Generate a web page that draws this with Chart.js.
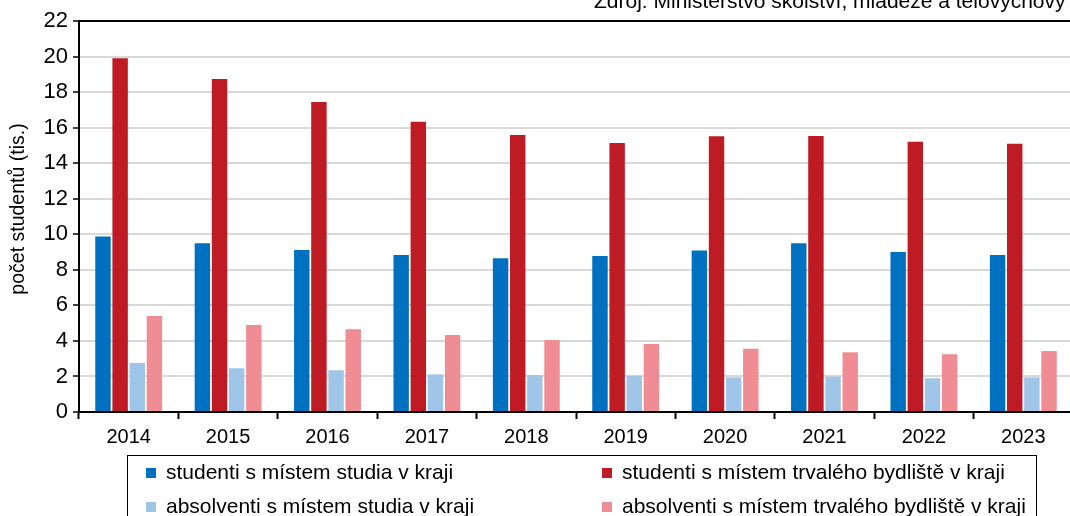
<!DOCTYPE html>
<html>
<head>
<meta charset="utf-8">
<script src="https://cdn.jsdelivr.net/npm/chart.js@4/dist/chart.umd.min.js"></script>
<style>
    html, body { margin: 0; padding: 0; overflow: hidden; background: #fff; }
    #wrap { position: relative; width: 1073px; height: 516px; }
    #legend {
        position: absolute; left: 127px; top: 455px; width: 910px; height: 80px;
        border: 1.5px solid #000; box-sizing: border-box;
        font-family: Arial, "Liberation Sans", sans-serif; font-size: 21px; color: #000;
    }
    .item { position: absolute; white-space: nowrap; line-height: 22px; }
    .item span { display: inline-block; width: 10px; height: 10px; margin-right: 10px; vertical-align: 1px; }
</style>
</head>
<body>
<div id="wrap">
    <canvas id="chart" width="1073" height="516"></canvas>
    <div id="legend"></div>
</div>
<script>
const years = ['2014', '2015', '2016', '2017', '2018', '2019', '2020', '2021', '2022', '2023'];
const studentiStudium = [9.87, 9.49, 9.12, 8.84, 8.65, 8.78, 9.08, 9.49, 9.0, 8.84];
const studentiBydliste = [19.9, 18.74, 17.44, 16.33, 15.59, 15.13, 15.52, 15.53, 15.2, 15.09];
const absolventiStudium = [2.76, 2.46, 2.35, 2.12, 2.08, 2.04, 1.95, 1.99, 1.9, 1.95];
const absolventiBydliste = [5.4, 4.9, 4.65, 4.33, 4.05, 3.83, 3.56, 3.36, 3.25, 3.43];
const seriesNames = [
    'studenti s místem studia v kraji',
    'studenti s místem trvalého bydliště v kraji',
    'absolventi s místem studia v kraji',
    'absolventi s místem trvalého bydliště v kraji'
];
const colors = ['#0070c0', '#be1b24', '#9fc5e8', '#f08c93'];
const yTitle = 'počet studentů (tis.)';
const sourceText = 'Zdroj: Ministerstvo školství, mládeže a tělovýchovy';

const FONT = 'Arial, "Liberation Sans", sans-serif';

// extra texts: source line and rotated y title
const textPlugin = {
    id: 'texts',
    afterDraw(chart) {
        const ctx = chart.ctx;
        ctx.save();
        ctx.fillStyle = '#000';
        ctx.font = '21px ' + FONT;
        ctx.textBaseline = 'alphabetic';
        ctx.textAlign = 'left';
        ctx.fillText(sourceText, 594, 8);

        ctx.translate(19, 209);
        ctx.rotate(-Math.PI / 2);
        ctx.font = '19.5px ' + FONT;
        ctx.textAlign = 'center';
        ctx.textBaseline = 'middle';
        ctx.fillText(yTitle, 0, 0);
        ctx.restore();
    }
};

const allSeries = [studentiStudium, studentiBydliste, absolventiStudium, absolventiBydliste];

new Chart(document.getElementById('chart'), {
    type: 'bar',
    data: {
        labels: years,
        datasets: allSeries.map((d, i) => ({
            label: seriesNames[i],
            data: d,
            backgroundColor: colors[i],
            borderWidth: 0,
            barPercentage: 0.9,
            categoryPercentage: 0.69
        }))
    },
    options: {
        responsive: false,
        animation: false,
        devicePixelRatio: 1,
        layout: { padding: { top: 21, left: 0, right: 0, bottom: 0 } },
        plugins: {
            legend: { display: false },
            tooltip: { enabled: false }
        },
        scales: {
            x: {
                afterFit(scale) { scale.height = 104; },
                grid: {
                    drawOnChartArea: false,
                    offset: true,
                    tickLength: 7,
                    tickColor: '#000',
                    tickWidth: 2
                },
                border: { color: '#000', width: 2 },
                ticks: {
                    color: '#000',
                    font: { family: FONT, size: 20 },
                    padding: 6,
                    maxRotation: 0
                }
            },
            y: {
                min: 0,
                max: 22,
                afterFit(scale) { scale.width = 79; },
                grid: {
                    color: c => (c.tick && c.tick.value === 22 ? '#000' : '#d9d9d9'),
                    lineWidth: 2,
                    tickLength: 6,
                    tickColor: '#000',
                    tickWidth: 1.5
                },
                border: { color: '#000', width: 2 },
                ticks: {
                    stepSize: 2,
                    color: '#000',
                    font: { family: FONT, size: 22 },
                    padding: 5
                }
            }
        }
    },
    plugins: [textPlugin]
});

// legend, 2 columns
const legend = document.getElementById('legend');
const pos = [[18, 5], [474, 5], [18, 39], [474, 39]];
seriesNames.forEach((name, k) => {
    const el = document.createElement('div');
    el.className = 'item';
    el.style.left = pos[k][0] + 'px';
    el.style.top = pos[k][1] + 'px';
    el.innerHTML = '<span style="background:' + colors[k] + '"></span>' + name;
    legend.appendChild(el);
});
</script>
</body>
</html>
